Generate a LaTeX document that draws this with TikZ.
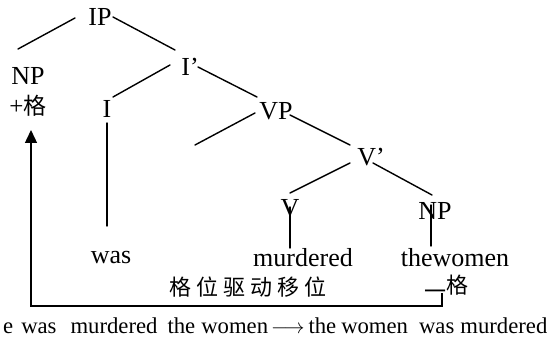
\documentclass[tikz,border=0pt]{standalone}
\usepackage{fontspec}
\setmainfont{Liberation Serif}
\newfontfamily\cjk{Noto Sans CJK SC}
\usetikzlibrary{calc,arrows.meta}
\tikzset{
  lab/.style={inner sep=0pt, font=\fontsize{26}{26}\selectfont},
  cjklab/.style={inner sep=0pt, font=\fontsize{22}{22}\selectfont\cjk},
  edge/.style={line width=1.4pt, line cap=round},
  movearrow/.style={line width=1.4pt, -{Triangle[width=12pt,length=13pt]}}
}
\begin{document}
\begin{tikzpicture}[x=1pt,y=-1pt]
\useasboundingbox (0,0) rectangle (547,337);
% nodes
\node[lab] (IP) at (100,17) {IP};
\node[lab] (NP) at (28,76) {NP};
\node[inner sep=0pt] (case) at (28,106) {\fontsize{25}{25}\selectfont +\cjk\fontsize{23}{23}\selectfont 格};
\node[lab] (Ibar) at (190,67) {I’};
\node[lab] (I) at (107,109) {I};
\node[lab] (VP) at (276,111) {VP};
\node[lab] (Vbar) at (371,157) {V’};
\node[lab] (V) at (290,208) {V};
\node[lab] (NP2) at (435,211) {NP};
\node[lab] (was) at (111,258) {was};
\node[lab] (murdered) at (303,258) {murdered};
\node[lab] (women) at (455,258) {thewomen};
\node[cjklab] (move) at (248,287) {格\hspace{5pt}位\hspace{5pt}驱\hspace{5pt}动\hspace{5pt}移\hspace{5pt}位};
\node[cjklab] (mcase) at (446,287) {\raisebox{-6pt}{一}格};
\node[inner sep=0pt, anchor=base west, font=\fontsize{22.7}{22.7}\selectfont] (bottom) at (3,333)
  {e\hspace{8pt}was\hspace{14pt}murdered\hspace{10pt}the\hspace{6pt}women\hspace{3pt}$\longrightarrow$\hspace{4pt}the\hspace{5pt}women\hspace{11pt}was\hspace{6pt}murdered};
\coordinate (dangle) at (195,145);
% tree edges
\draw[edge] ($(IP)+(-25,1)$) -- ($(NP)+(-10,-27)$);
\draw[edge] ($(IP)+(13,0)$) -- ($(Ibar)+(-15,-17)$);
\draw[edge] ($(Ibar)+(-20,-2)$) -- ($(I)+(6,-12)$);
\draw[edge] ($(Ibar)+(8,0)$) -- ($(VP)+(-19,-14)$);
\draw[edge] ($(I)+(0,14)$) -- ($(was)+(-4,-32)$);
\draw[edge] ($(VP)+(-21,2)$) -- (dangle);
\draw[edge] ($(VP)+(14,4)$) -- ($(Vbar)+(-21,-12)$);
\draw[edge] ($(Vbar)+(-21,6)$) -- ($(V)+(0,-15)$);
\draw[edge] ($(Vbar)+(2,6)$) -- ($(NP2)+(-3,-16)$);
\draw[edge] ($(V)+(0,-1)$) -- ($(murdered)+(-13,-10)$);
\draw[edge] ($(NP2)+(-4,-6)$) -- ($(women)+(-24,-12)$);
% movement bracket
\draw[movearrow] ($(mcase)+(-4,6)$) -- ($(mcase)+(-4,19)$) -| ($(case)+(3,24)$);
\end{tikzpicture}
\end{document}
